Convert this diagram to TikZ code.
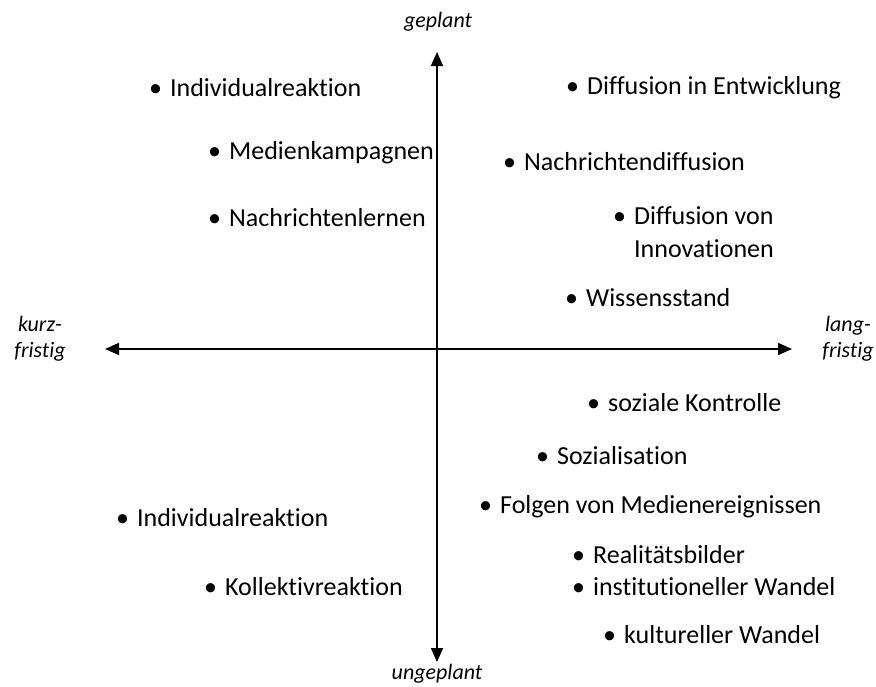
\documentclass[tikz,border=0pt]{standalone}
\usepackage{fontspec}
\setmainfont{Carlito}[Ligatures=CommonOff]
\usetikzlibrary{arrows.meta}
\begin{document}
\begin{tikzpicture}[x=1pt,y=-1pt,
  item/.style={anchor=west,inner sep=0pt,font=\fontsize{26}{33}\selectfont,align=left},
  axlabel/.style={inner sep=0pt,font=\fontsize{22}{26}\selectfont\itshape,align=center},
  axis/.style={line width=1.6pt,-{Triangle[length=14pt,width=12pt]}}]
\useasboundingbox (0,0) rectangle (876,686);
\coordinate (top) at (437,52);
\coordinate (bot) at (437,662);
\coordinate (lft) at (105,349);
\coordinate (rgt) at (792,349);
\coordinate (ctr) at (437,349);
\draw[axis] (ctr) -- (top);
\draw[axis] (ctr) -- (bot);
\draw[axis] (ctr) -- (lft);
\draw[axis] (ctr) -- (rgt);
\node[axlabel] (geplant) at (438,22) {geplant};
\node[axlabel] (ungeplant) at (437,674) {ungeplant};
\node[axlabel] (kurz) at (40,339) {kurz-\\fristig};
\node[axlabel] (lang) at (848,339) {lang-\\fristig};
\newcommand{\bl}{\textbullet\hspace{8pt}}
\node[item] (i1) at (149,88) {\bl Individualreaktion};
\node[item] (i2) at (208,153) {\bl Medienkampagnen};
\node[item] (i3) at (208,218) {\bl Nachrichtenlernen};
\node[item] (i4) at (566,88) {\bl Diffusion in Entwicklung};
\node[item] (i5) at (503,162) {\bl Nachrichtendiffusion};
\node[item] (i6) at (613,232) {\bl Diffusion von\\\phantom{\bl}Innovationen};
\node[item] (i7) at (565,298) {\bl Wissensstand};
\node[item] (i8) at (587,403) {\bl soziale Kontrolle};
\node[item] (i9) at (536,456) {\bl Sozialisation};
\node[item] (i10) at (479,507) {\bl Folgen von Medienereignissen};
\node[item] (i11) at (116,518) {\bl Individualreaktion};
\node[item] (i12) at (204,587) {\bl Kollektivreaktion};
\node[item] (i13) at (572,555) {\bl Realitätsbilder};
\node[item] (i14) at (572,587) {\bl institutioneller Wandel};
\node[item] (i15) at (603,635) {\bl kultureller Wandel};
\end{tikzpicture}
\end{document}
